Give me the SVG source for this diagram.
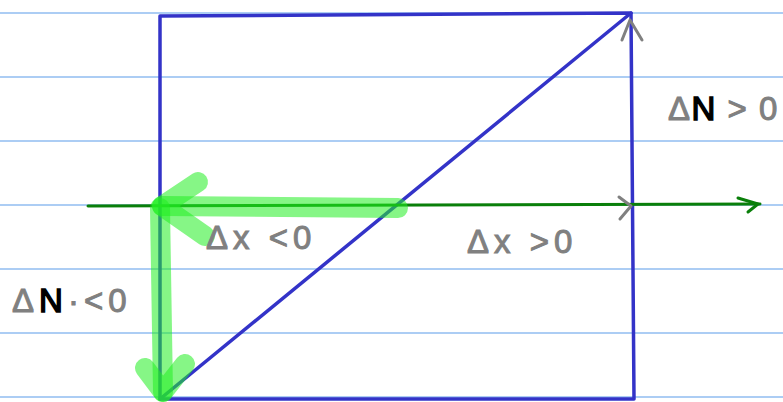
<svg xmlns="http://www.w3.org/2000/svg" width="783" height="402" viewBox="0 0 783 402">
<style>
.rule{stroke:#5b9bea;stroke-width:1.2}
.blue{stroke:#3333c8;stroke-width:3.5;fill:none;stroke-linecap:round;stroke-linejoin:round}
.axis{stroke:#0a7f0a;stroke-width:3;fill:none;stroke-linecap:round;stroke-linejoin:round}
.hl{stroke:#22ee22;stroke-opacity:0.55;stroke-width:20;fill:none;stroke-linecap:round;stroke-linejoin:round}
.tick{stroke:#808080;stroke-width:3;fill:none;stroke-linecap:round;stroke-linejoin:round}
.lbl{font-family:"Liberation Sans","DejaVu Sans",sans-serif;font-size:33px;fill:#808080;stroke:#808080;stroke-width:1;letter-spacing:5px}
.blk{fill:#000;stroke:#000;stroke-width:1.5}
</style>
<rect width="783" height="402" fill="#fff"/>
<g id="rules">
<line class="rule" x1="0" y1="13" x2="783" y2="13"/>
<line class="rule" x1="0" y1="77" x2="783" y2="77"/>
<line class="rule" x1="0" y1="141" x2="783" y2="141"/>
<line class="rule" x1="0" y1="205" x2="783" y2="205"/>
<line class="rule" x1="0" y1="269" x2="783" y2="269"/>
<line class="rule" x1="0" y1="333" x2="783" y2="333"/>
<line class="rule" x1="0" y1="397" x2="783" y2="397"/>
</g>
<g id="box">
<path class="blue" d="M160,399 L160,16 L631,13 L634,399 Z"/>
<line class="blue" x1="160" y1="399" x2="631" y2="13"/>
</g>
<g id="connectors">
<path class="axis" d="M88,206 L760,204"/>
<path class="axis" d="M738,198 L758,204 L748,212" stroke-width="4"/>
<path class="hl" d="M398,208 L162,206"/>
<path class="hl" d="M198,182 L162,206 L205,236"/>
<path class="hl" d="M160,208 L163,392"/>
<path class="hl" d="M145,368 L163,392 L185,364"/>
<path class="tick" d="M622,40 L630,20 L642,40"/>
<path class="tick" d="M619,197 L631,206 L620,219" stroke-width="2"/>
</g>
<g id="labels">
<text class="lbl" x="12" y="312">Δ<tspan class="blk">N</tspan>·&lt;0</text>
<text class="lbl" x="206" y="249">Δx &lt;0</text>
<text class="lbl" x="467" y="253">Δx &gt;0</text>
<text class="lbl" x="668" y="120" style="letter-spacing:1.5px">Δ<tspan class="blk">N</tspan> &gt; 0</text>
</g>
</svg>
